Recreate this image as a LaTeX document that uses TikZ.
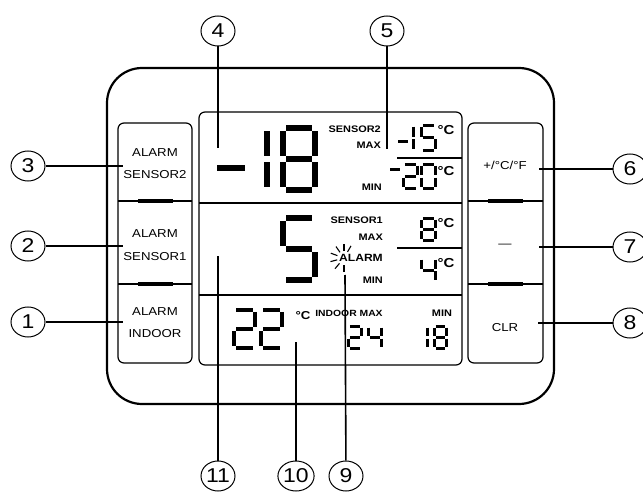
\documentclass[tikz,border=0pt]{standalone}
\usepackage{fontspec}
\setmainfont{Liberation Sans}[FakeStretch=1.15]
\usetikzlibrary{shapes.geometric}

\tikzset{
  seg a/.style={insert path={(0.1,0) -- (0.9,0)}},
  seg b/.style={insert path={(1,0.05) -- (1,0.45)}},
  seg c/.style={insert path={(1,0.55) -- (1,0.95)}},
  seg d/.style={insert path={(0.1,1) -- (0.9,1)}},
  seg e/.style={insert path={(0,0.55) -- (0,0.95)}},
  seg f/.style={insert path={(0,0.05) -- (0,0.45)}},
  seg g/.style={insert path={(0.1,0.5) -- (0.9,0.5)}},
  callout/.style={draw, ellipse, minimum width=34pt, minimum height=30pt, line width=1pt, font=\fontsize{20}{20}\selectfont},
  leader/.style={line width=1.6pt},
  keytext/.style={font=\fontsize{11.5}{11.5}\selectfont},
  lcdtext/.style={font=\fontsize{9.5}{9.5}\selectfont\bfseries},
  unittext/.style={font=\fontsize{13}{13}\selectfont\bfseries},
}

\newcommand{\lcddigit}[6]{%
  \begin{scope}[shift={(#1,#2)}, x=#3pt, y=-#4pt]
  \foreach \sg in {#6} {\draw [line width=#5pt] [seg \sg];}
  \end{scope}}

\begin{document}
\begin{tikzpicture}[x=1pt, y=-1pt]
\tikzstyle{every node}+=[inner sep=0pt]
\useasboundingbox (0,0) rectangle (643,492);

\draw [line width=2.2pt, rounded corners=35pt] (107,68) rectangle (554,404);
\draw [line width=1.2pt, rounded corners=6pt] (118,123) rectangle (192,363);
\draw [line width=1.2pt, rounded corners=6pt] (468,123) rectangle (543,363);
\draw [line width=1.2pt, rounded corners=6pt] (199,112) rectangle (462,365);

\draw [line width=1.1pt] (118,201) -- (192,201);
\draw [line width=1.1pt] (118,284) -- (192,284);
\draw [line width=3.5pt] (138,201) -- (173,201);
\draw [line width=3.5pt] (138,284) -- (173,284);
\draw [line width=1.1pt] (468,201) -- (543,201);
\draw [line width=1.1pt] (468,284) -- (543,284);
\draw [line width=3.5pt] (488,201) -- (523,201);
\draw [line width=3.5pt] (488,284) -- (523,284);

\draw [line width=1.2pt] (199,203) -- (462,203);
\draw [line width=1.2pt] (199,295) -- (462,295);
\draw [line width=1.1pt] (397,158) -- (462,158);
\draw [line width=1.1pt] (397,248) -- (462,248);

\node [keytext] (k3a) at (155,153) {ALARM};
\node [keytext] (k3b) at (155,175) {SENSOR2};
\node [keytext] (k2a) at (155,234) {ALARM};
\node [keytext] (k2b) at (155,257) {SENSOR1};
\node [keytext] (k1a) at (155,312) {ALARM};
\node [keytext] (k1b) at (155,334) {INDOOR};
\node [keytext] (k6) at (505,165) {+/°C/°F};
\node [keytext] (k7) at (505,246) {—};
\node [keytext] (k8) at (505,328) {CLR};

\draw [line width=6pt] (217,168) -- (245,168);
\lcddigit{235}{128}{32}{62}{6}{b,c}
\lcddigit{283}{128}{32}{62}{6}{a,b,c,d,e,f,g}
\node [lcdtext, anchor=east] (s2) at (381,129) {SENSOR2};
\node [lcdtext, anchor=east] (s2max) at (381,145) {MAX};
\node [lcdtext, anchor=east] (s2min) at (382,187) {MIN};
\draw [line width=3pt] (398,141.5) -- (408,141.5);
\lcddigit{399}{125.5}{14}{25}{3}{b,c}
\lcddigit{421.5}{125.5}{14}{25}{3}{a,f,g,c,d}
\node [unittext] (u1) at (446,130) {°C};
\draw [line width=3pt] (390,170) -- (400,170);
\lcddigit{403.5}{164.5}{14}{24}{3}{a,b,g,e,d}
\lcddigit{421.5}{164.5}{14}{24}{3}{a,b,c,d,e,f}
\node [unittext] (u2) at (446,171) {°C};

\lcddigit{283}{218}{32}{62}{6}{a,f,g,c,d}
\node [lcdtext, anchor=east] (s1) at (383,220) {SENSOR1};
\node [lcdtext, anchor=east] (s1max) at (383,237) {MAX};
\node [lcdtext, anchor=east, font=\fontsize{10.5}{10.5}\selectfont\bfseries] (alarm) at (383,258) {ALARM};
\node [lcdtext, anchor=east] (s1min) at (383,280) {MIN};
\coordinate (burst) at (344,258);
\foreach \a in {60,90,125,160,195,230,270}
  \draw [line width=1.1pt] ([shift={(-\a:7)}]burst) -- ([shift={(-\a:14)}]burst);
\lcddigit{421.5}{218.5}{14}{22}{3}{a,b,c,d,e,f,g}
\node [unittext] (u3) at (446,223) {°C};
\lcddigit{421.5}{258.5}{14}{23}{3}{f,g,b,c}
\node [unittext] (u4) at (446,263) {°C};

\lcddigit{234}{310}{21}{38}{4.5}{a,b,g,e,d}
\lcddigit{261}{310}{21}{38}{4.5}{a,b,g,e,d}
\node [font=\fontsize{11.5}{11.5}\selectfont\bfseries] (u5) at (303,316) {°C};
\node [lcdtext, font=\fontsize{9}{9}\selectfont\bfseries] (inmax) at (349,313) {INDOOR MAX};
\node [lcdtext] (inmin) at (442,313) {MIN};
\lcddigit{348.5}{326.5}{13}{22}{3}{a,b,g,e,d}
\lcddigit{368.5}{326.5}{13}{22}{3}{f,g,b,c}
\lcddigit{414}{326.5}{13}{22}{3}{b,c}
\lcddigit{434.5}{326.5}{12}{22}{3}{a,b,c,d,e,f,g}

\node [callout] (c1) at (28,322) {1};
\node [callout] (c2) at (28,246) {2};
\node [callout] (c3) at (28,166) {3};
\node [callout] (c4) at (218,31) {4};
\node [callout] (c5) at (387,31) {5};
\node [callout] (c6) at (630,169) {6};
\node [callout] (c7) at (630,247) {7};
\node [callout] (c8) at (630,323) {8};
\node [callout] (c9) at (346,476) {9};
\node [callout] (c10) at (296,476) {10};
\node [callout] (c11) at (218,476) {11};

\coordinate (e1) at (123,322);
\coordinate (e2) at (123,246);
\coordinate (e3) at (123,166);
\coordinate (e4) at (218,148);
\coordinate (e5) at (387,149);
\coordinate (e6) at (539,169);
\coordinate (e7) at (539,247);
\coordinate (e8) at (538,323);
\coordinate (e9) at (345,275);
\coordinate (e10) at (296,342);
\coordinate (e11) at (218,256);

\draw [leader] (c1) -- (e1);
\draw [leader] (c2) -- (e2);
\draw [leader] (c3) -- (e3);
\draw [leader] (c4) -- (e4);
\draw [leader] (c5) -- (e5);
\draw [leader] (c6) -- (e6);
\draw [leader] (c7) -- (e7);
\draw [leader] (c8) -- (e8);
\draw [leader] (c9) -- (e9);
\draw [leader] (c10) -- (e10);
\draw [leader] (c11) -- (e11);
\end{tikzpicture}
\end{document}
